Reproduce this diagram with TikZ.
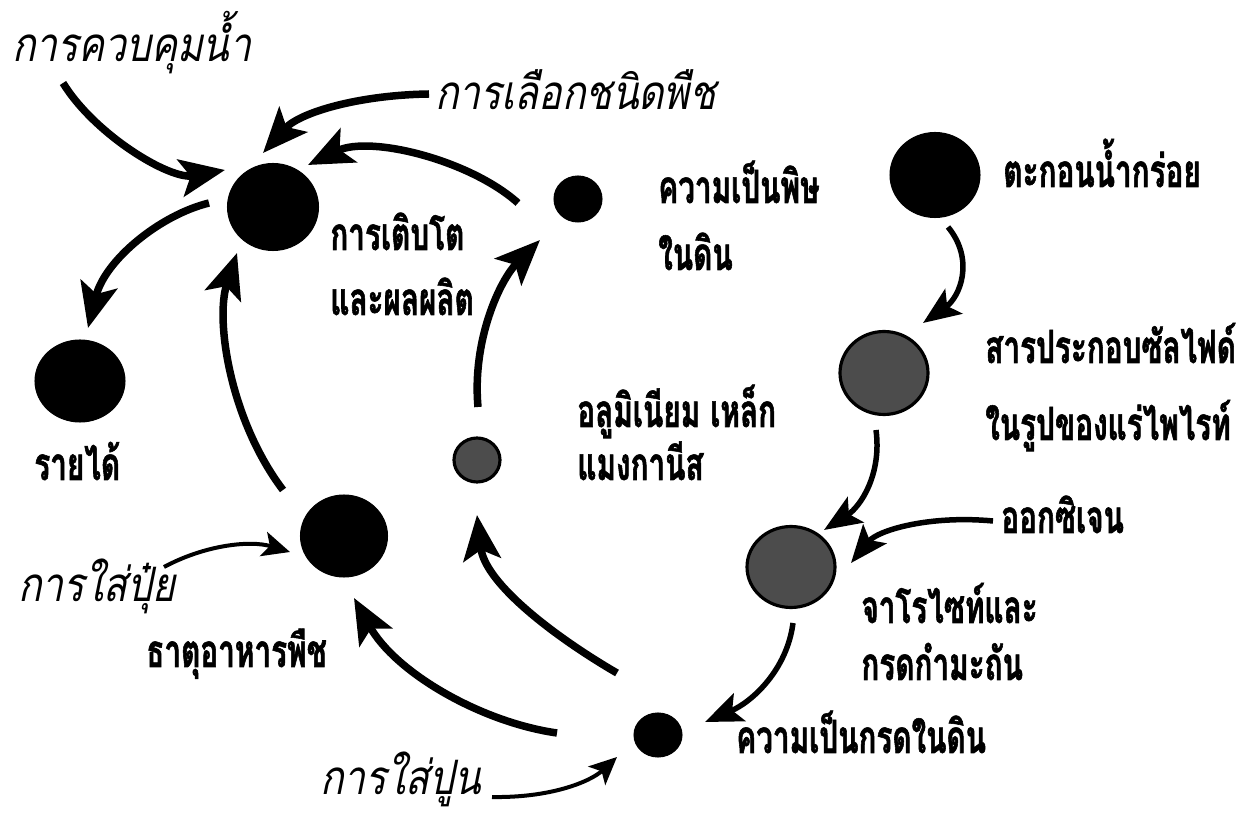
\documentclass[tikz,border=0pt]{standalone}
\usepackage{fontspec}
\newfontfamily\thb[Script=Thai,FakeStretch=0.65,BoldFeatures={FakeBold=1.2}]{Loma}
\newfontfamily\thi[Script=Thai,FakeStretch=0.82,FakeSlant=0.2]{Loma}
\usetikzlibrary{arrows.meta,shapes.geometric,calc}
\tikzset{
  dot/.style={ellipse,fill=black,draw=black,line width=0.6pt,inner sep=0pt},
  greydot/.style={ellipse,fill=black!70,draw=black,line width=1.8pt,inner sep=0pt},
  bl/.style={font=\thb\bfseries\fontsize{26}{30}\selectfont,inner sep=0pt,anchor=base west},
  il/.style={font=\thi\fontsize{27}{31}\selectfont,inner sep=0pt,anchor=base west},
  bigarrow/.style={line width=0.15cm,-{Stealth[length=0.9cm,width=0.75cm,inset=0.2cm]}},
  midarrow/.style={line width=0.11cm,-{Stealth[length=0.75cm,width=0.6cm,inset=0.16cm]}},
  smallarrow/.style={line width=0.08cm,-{Stealth[length=0.55cm,width=0.5cm,inset=0.13cm]}}
}
\begin{document}
\begin{tikzpicture}[x=0.02cm,y=-0.02cm]
\useasboundingbox (0,0) rectangle (1245,820);
% circles
\node[dot,minimum width=1.82cm,minimum height=1.74cm] (G) at (273,207) {};
\node[dot,minimum width=0.96cm,minimum height=0.92cm] (T) at (578,199) {};
\node[dot,minimum width=1.8cm,minimum height=1.7cm] (S) at (935,175) {};
\node[greydot,minimum width=1.76cm,minimum height=1.66cm] (F) at (884,373) {};
\node[greydot,minimum width=1.76cm,minimum height=1.62cm] (J) at (791,567) {};
\node[dot,minimum width=0.96cm,minimum height=0.88cm] (A) at (658,735) {};
\node[greydot,minimum width=0.92cm,minimum height=0.88cm] (M) at (477,460) {};
\node[dot,minimum width=1.74cm,minimum height=1.64cm] (N) at (344,536) {};
\node[dot,minimum width=1.8cm,minimum height=1.64cm] (I) at (80,381) {};
% labels
\node[il] (lwater) at (12,62) {การควบคุมน้ำ};
\node[il] (lchoice) at (435,110) {การเลือกชนิดพืช};
\node[bl] (ltox1) at (658,203) {ความเป็นพิษ};
\node[bl] (ltox2) at (658,270) {ในดิน};
\node[bl] (lsed) at (1003,187) {ตะกอนน้ำกร่อย};
\node[bl] (lsul1) at (985,363) {สารประกอบซัลไฟด์};
\node[bl] (lsul2) at (985,440) {ในรูปของแร่ไพไรท์};
\node[bl] (lalfe1) at (577,427) {อลูมิเนียม เหล็ก};
\node[bl] (lalfe2) at (577,480) {แมงกานีส};
\node[bl] (lgrow1) at (330,250) {การเติบโต};
\node[bl] (lgrow2) at (330,315) {และผลผลิต};
\node[bl] (linc) at (34,480) {รายได้};
\node[il] (lfert) at (18,602) {การใส่ปุ๋ย};
\node[bl] (lnutr) at (146,667) {ธาตุอาหารพืช};
\node[bl] (loxy) at (1001,533) {ออกซิเจน};
\node[bl] (ljar1) at (861,623) {จาโรไซท์และ};
\node[bl] (ljar2) at (861,680) {กรดกำมะถัน};
\node[bl] (lacid) at (736,753) {ความเป็นกรดในดิน};
\node[il] (llime) at (320,795) {การใส่ปูน};
% connectors
\draw[bigarrow] ($(lwater.base west)+(51,21)$) .. controls (95,135) and (170,180) .. ($(G)+(-48,-37)$);
\draw[bigarrow] ($(lchoice.base west)+(-6,-16)$) .. controls (360,95) and (300,112) .. ($(G)+(-10,-54)$);
\draw[bigarrow] ($(T)+(-60,4)$) .. controls (470,160) and (370,135) .. ($(G)+(35,-42)$);
\draw[bigarrow] ($(G)+(-64,-4)$) .. controls (160,215) and (105,260) .. ($(I)+(8,-53)$);
\draw[bigarrow] ($(N)+(-61,-46)$) .. controls (230,420) and (215,320) .. ($(G)+(-36,46)$);
\draw[bigarrow] ($(M)+(1,-53)$) .. controls (472,340) and (500,280) .. ($(T)+(-38,41)$);
\draw[midarrow] ($(S)+(13,52)$) .. controls (975,260) and (960,297) .. ($(F)+(39,-50)$);
\draw[midarrow] ($(F)+(-8,57)$) .. controls (882,475) and (860,507) .. ($(J)+(33,-37)$);
\draw[midarrow] ($(loxy.base west)+(-8,-12)$) .. controls (930,515) and (878,530) .. ($(J)+(60,-4)$);
\draw[midarrow] ($(J)+(2,56)$) .. controls (787,670) and (752,702) .. ($(A)+(47,-13)$);
\draw[smallarrow] ($(llime.base west)+(172,2)$) .. controls (550,798) and (590,782) .. ($(A)+(-41,22)$);
\draw[bigarrow] ($(A)+(-101,-2)$) .. controls (480,722) and (395,672) .. ($(N)+(10,62)$);
\draw[bigarrow] ($(A)+(-41,-62)$) .. controls (560,640) and (485,585) .. ($(M)+(0,55)$);
\draw[smallarrow] ($(lfert.base west)+(146,-35)$) .. controls (205,545) and (250,540) .. ($(N)+(-54,16)$);
\end{tikzpicture}
\end{document}
